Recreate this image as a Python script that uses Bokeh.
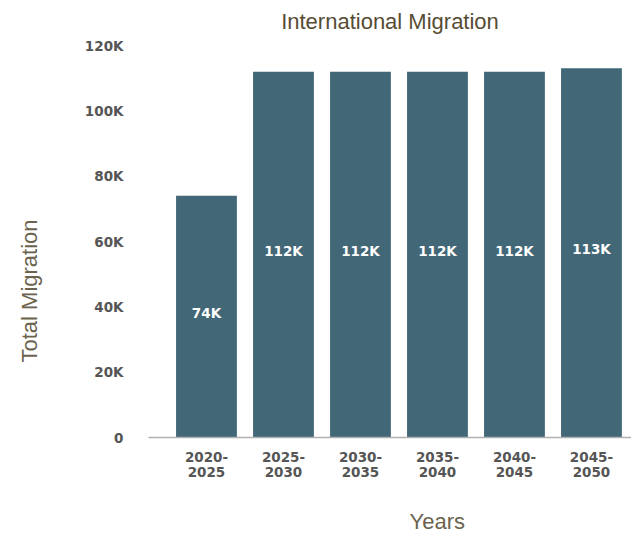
from bokeh.plotting import figure
from bokeh.models import Range1d, FixedTicker, Title, ColumnDataSource, LabelSet
from bokeh.core.properties import value
from bokeh.embed import file_html
from bokeh.resources import INLINE

periods = ["2020-\n2025", "2025-\n2030", "2030-\n2035", "2035-\n2040", "2040-\n2045", "2045-\n2050"]
migration = [74000, 112000, 112000, 112000, 112000, 113000]
bar_labels = ["74K", "112K", "112K", "112K", "112K", "113K"]
y_ticks = [0, 20000, 40000, 60000, 80000, 100000, 120000]
y_tick_labels = ["0", "20K", "40K", "60K", "80K", "100K", "120K"]

W, H = 631, 535
L, R, T, B = 148, 0, 45, 98
x0, x1 = -0.753, 5.52
y0, y1 = 0, 120000

p = figure(width=W, height=H, x_range=Range1d(x0, x1), y_range=Range1d(y0, y1),
           output_backend="svg", toolbar_location=None,
           min_border_left=L, min_border_right=R, min_border_top=T, min_border_bottom=B)
p.outline_line_color = None
p.xgrid.visible = False
p.ygrid.visible = False

xs = list(range(len(periods)))
src = ColumnDataSource(dict(x=xs, top=migration, lab=bar_labels,
                            mid=[v / 2 for v in migration]))
p.vbar(x="x", top="top", bottom=0, width=0.79, source=src,
       fill_color="#426777", line_color=None)

p.add_layout(LabelSet(x="x", y="mid", text="lab", source=src, y_offset=4,
                      text_color="white", text_font=value("DejaVu Sans"), text_font_style="bold",
                      text_font_size="13.5px", text_align="center", text_baseline="middle"))

p.xaxis.ticker = FixedTicker(ticks=xs)
p.xaxis.major_label_overrides = {i: s for i, s in enumerate(periods)}
p.xaxis.major_tick_line_color = None
p.xaxis.minor_tick_line_color = None
p.xaxis.axis_line_color = "#b0b0b0"
p.xaxis.axis_line_width = 1.5
p.xaxis.major_label_text_font = "DejaVu Sans"
p.xaxis.major_label_text_font_style = "bold"
p.xaxis.major_label_text_font_size = "13.5px"
p.xaxis.major_label_text_color = "#555555"
p.xaxis.major_label_text_line_height = 0.95
p.xaxis.major_label_standoff = 5

p.yaxis.ticker = FixedTicker(ticks=y_ticks)
p.yaxis.major_label_overrides = {t: s for t, s in zip(y_ticks, y_tick_labels)}
p.yaxis.major_tick_line_color = None
p.yaxis.minor_tick_line_color = None
p.yaxis.axis_line_color = None
p.yaxis.major_label_text_font = "DejaVu Sans"
p.yaxis.major_label_text_font_style = "bold"
p.yaxis.major_label_text_font_size = "13.5px"
p.yaxis.major_label_text_color = "#555555"
p.yaxis.major_label_standoff = 19

p.title.text = "International Migration"
p.title.align = "center"
p.title.vertical_align = "bottom"
p.title.standoff = 0
p.title.padding = dict(left=0, right=0, top=0, bottom=12)
p.title.text_font = "Liberation Sans"
p.title.text_font_size = "22px"
p.title.text_font_style = "normal"
p.title.text_color = "#564c33"

p.add_layout(Title(text="Years", align="left", vertical_align="top", offset=261, standoff=0,
                   padding=dict(left=0, right=0, top=26, bottom=0), text_line_height=1.0,
                   text_font="Liberation Sans", text_font_size="22px",
                   text_font_style="normal", text_color="#6b634d"), "below")
p.add_layout(Title(text="Total Migration", align="left", vertical_align="bottom", offset=75,
                   standoff=0, padding=dict(left=0, right=0, top=0, bottom=40),
                   text_font="Liberation Sans", text_font_size="22px",
                   text_font_style="normal", text_color="#6b634d"), "left")

open("out.html", "w").write(file_html(p, INLINE))
